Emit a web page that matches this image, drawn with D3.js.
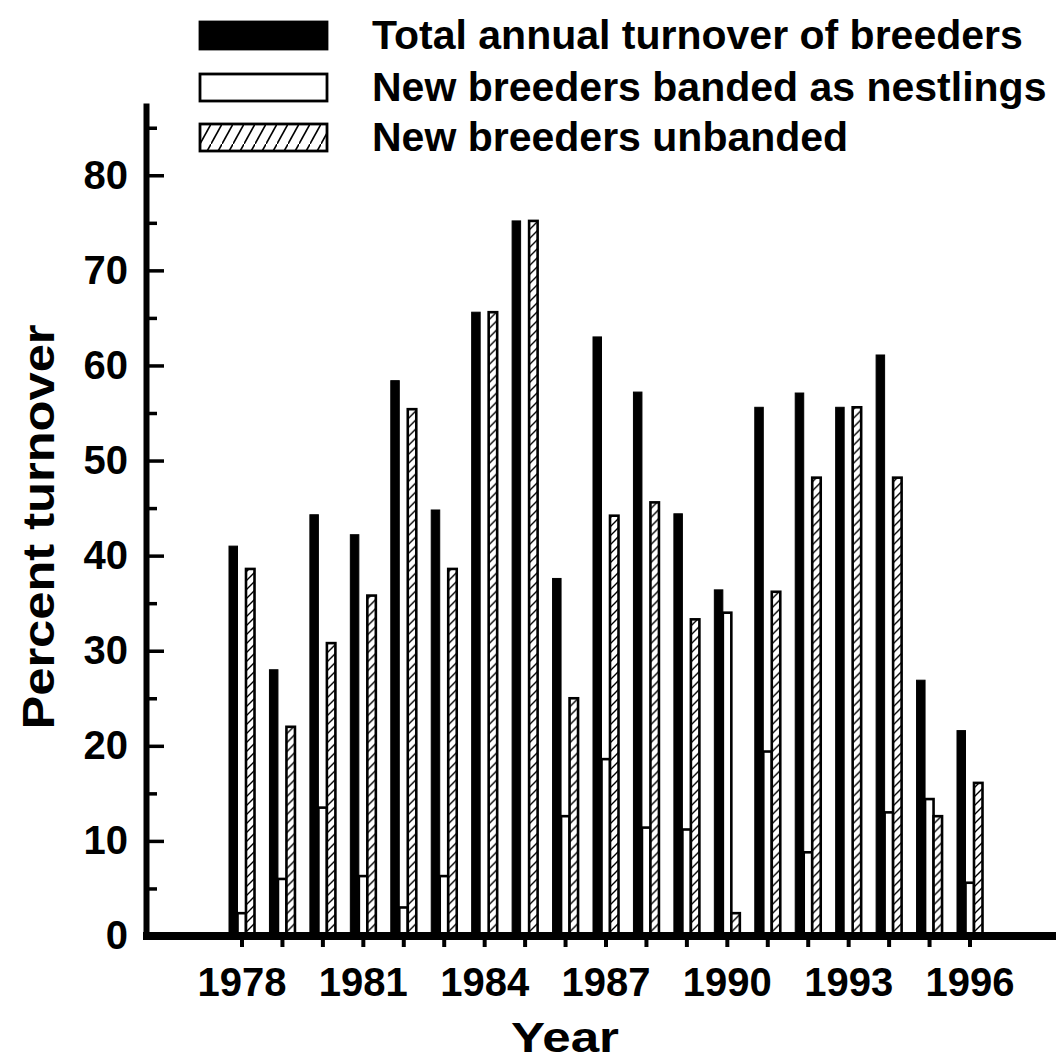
<!DOCTYPE html>
<html>
<head>
<meta charset="utf-8">
<script src="https://cdn.jsdelivr.net/npm/d3@7"></script>
<style>
  body { margin: 0; background: #fff; }
  svg text { font-family: "Liberation Sans", Arial, Helvetica, sans-serif; font-weight: bold; fill: #000; }
</style>
</head>
<body>
<div id="chart"></div>
<script>
// Data
var years = [1978, 1979, 1980, 1981, 1982, 1983, 1984, 1985, 1986, 1987,
             1988, 1989, 1990, 1991, 1992, 1993, 1994, 1995, 1996];
var total    = [41, 28, 44.3, 42.2, 58.4, 44.8, 65.6, 75.2, 37.6, 63,
                57.2, 44.4, 36.4, 55.6, 57.1, 55.6, 61.1, 26.9, 21.6];
var banded   = [2.4, 6, 13.5, 6.3, 3, 6.3, 0, 0, 12.6, 18.6,
                11.4, 11.2, 34, 19.4, 8.8, 0, 13, 14.4, 5.6];
var unbanded = [38.6, 22, 30.8, 35.8, 55.4, 38.6, 65.6, 75.2, 25, 44.2,
                45.6, 33.3, 2.4, 36.2, 48.2, 55.6, 48.2, 12.6, 16.1];
var seriesNames = ["Total annual turnover of breeders",
                   "New breeders banded as nestlings",
                   "New breeders unbanded"];
var yMajor = [0, 10, 20, 30, 40, 50, 60, 70, 80];
var yMinor = [5, 15, 25, 35, 45, 55, 65, 75, 85];
var labelYears = [1978, 1981, 1984, 1987, 1990, 1993, 1996];

var W = 1056, H = 1062;

var svg = d3.select("#chart")
  .append("svg")
    .attr("width", W)
    .attr("height", H);

svg.append("rect").attr("width", W).attr("height", H).attr("fill", "#fff");

// hatch patterns (bars and legend key are a bit different)
var defs = svg.append("defs");
var hatch = defs.append("pattern")
    .attr("id", "hatch")
    .attr("patternUnits", "userSpaceOnUse")
    .attr("width", 9).attr("height", 9);
hatch.append("rect").attr("width", 9).attr("height", 9).attr("fill", "#fff");
hatch.append("path")
    .attr("d", "M-1,10 L10,-1 M-2,2 L2,-2 M7,11 L11,7")
    .attr("stroke", "#000").attr("stroke-width", 1.4);

var hatchL = defs.append("pattern")
    .attr("id", "hatchL")
    .attr("patternUnits", "userSpaceOnUse")
    .attr("width", 11).attr("height", 20);
hatchL.append("rect").attr("width", 11).attr("height", 20).attr("fill", "#fff");
hatchL.append("path")
    .attr("d", "M-0.55,21 L11.55,-1")
    .attr("stroke", "#000").attr("stroke-width", 1.6);

// scales
var x = d3.scaleBand()
    .domain(years)
    .range([242 - 20.22, 970 + 20.22]);
var xSub = d3.scaleBand()
    .domain([0, 1, 2])
    .range([-13, 12.5]);
var y = d3.scaleLinear()
    .domain([0, 87.6])
    .range([936, 103]);

var rows = years.map(function(yr, i) {
  return {year: yr, values: [total[i], banded[i], unbanded[i]]};
});

var fills = ["#000", "#fff", "url(#hatch)"];
var strokes = [1, 2.6, 2.6];

// bars
var groups = svg.append("g").selectAll("g")
  .data(rows)
  .enter().append("g")
    .attr("transform", function(d) { return "translate(" + (x(d.year) + x.bandwidth() / 2) + ",0)"; });

groups.selectAll("rect")
  .data(function(d) {
    return d.values.map(function(v, k) { return {k: k, v: v}; }).filter(function(e) { return e.v > 0; });
  })
  .enter().append("rect")
    .attr("x", function(e) { return xSub(e.k); })
    .attr("width", xSub.bandwidth())
    .attr("y", function(e) { return y(e.v); })
    .attr("height", function(e) { return y(0) - y(e.v); })
    .attr("fill", function(e) { return fills[e.k]; })
    .attr("stroke", "#000")
    .attr("stroke-width", function(e) { return strokes[e.k]; });

// y axis, ticks pointing inward
var yAxis = svg.append("g")
    .attr("transform", "translate(146,0)")
    .call(d3.axisLeft(y).tickValues(yMajor).tickSize(-18).tickSizeOuter(0).tickPadding(18));
yAxis.select(".domain").attr("stroke-width", 6);
yAxis.selectAll(".tick line").attr("stroke-width", 3.5);
yAxis.selectAll(".tick text")
    .attr("font-size", 40)
    .attr("font-family", null);
yAxis.attr("font-family", null);

var yMinorAxis = svg.append("g")
    .attr("transform", "translate(146,0)")
    .call(d3.axisLeft(y).tickValues(yMinor).tickSize(-11).tickFormat(""));
yMinorAxis.select(".domain").remove();
yMinorAxis.selectAll(".tick line").attr("stroke-width", 3.5);

// x axis
var xAxis = svg.append("g")
    .attr("transform", "translate(0,936)")
    .call(d3.axisBottom(x).tickSize(11).tickPadding(21)
      .tickFormat(function(d) { return labelYears.indexOf(d) >= 0 ? d : ""; }));
xAxis.select(".domain").remove();
xAxis.attr("font-family", null);
xAxis.selectAll(".tick line").attr("stroke-width", 4);
xAxis.selectAll(".tick text").attr("font-size", 40);

svg.append("line")
    .attr("x1", 143).attr("x2", W)
    .attr("y1", y(0)).attr("y2", y(0))
    .attr("stroke", "#000")
    .attr("stroke-width", 8);

// axis titles
svg.append("text")
    .attr("x", 565)
    .attr("y", 1052)
    .attr("text-anchor", "middle")
    .attr("font-size", 43)
    .attr("textLength", 108)
    .attr("lengthAdjust", "spacingAndGlyphs")
    .text("Year");

svg.append("text")
    .attr("transform", "translate(54,527) rotate(-90)")
    .attr("text-anchor", "middle")
    .attr("font-size", 44)
    .attr("textLength", 405)
    .attr("lengthAdjust", "spacingAndGlyphs")
    .text("Percent turnover");

// legend
var legendFills = ["#000", "#fff", "url(#hatchL)"];
var legend = svg.append("g").selectAll("g")
  .data(seriesNames)
  .enter().append("g")
    .attr("transform", function(d, i) { return "translate(200," + [22, 74, 124][i] + ")"; });

legend.append("rect")
    .attr("width", 127)
    .attr("height", 27)
    .attr("fill", function(d, i) { return legendFills[i]; })
    .attr("stroke", "#000")
    .attr("stroke-width", 2.8);

legend.append("text")
    .attr("x", 172)
    .attr("y", 27)
    .attr("font-size", 41)
    .text(function(d) { return d; });
</script>
</body>
</html>
